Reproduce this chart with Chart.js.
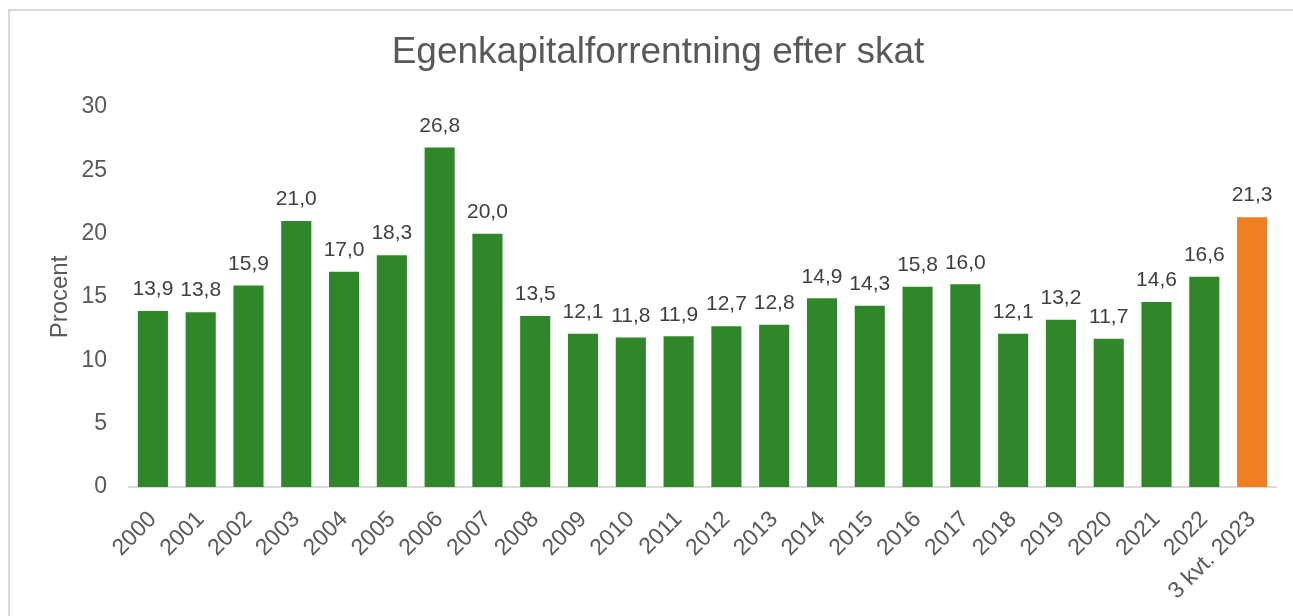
<!DOCTYPE html>
<html lang="da">
<head>
<meta charset="UTF-8" />
<title>Egenkapitalforrentning efter skat</title>
<script src="https://cdn.jsdelivr.net/npm/chart.js"></script>
<style>
  html, body { margin: 0; padding: 0; background: #fff; }
  #ramme { position: absolute; left: 0; top: 0; width: 1293px; height: 616px; overflow: hidden; }
  #kant { position: absolute; left: 8px; top: 9px; width: 1300px; height: 700px; border: 2px solid #d9d9d9; box-sizing: border-box; }
  #boks { position: absolute; left: 0; top: 0; width: 1293px; height: 616px; }
</style>
</head>
<body>
<div id="ramme">
  <div id="kant"></div>
  <div id="boks"><canvas id="graf"></canvas></div>
</div>
<script>
  const aar = ['2000', '2001', '2002', '2003', '2004', '2005', '2006', '2007', '2008', '2009',
    '2010', '2011', '2012', '2013', '2014', '2015', '2016', '2017', '2018', '2019',
    '2020', '2021', '2022', '3 kvt. 2023'];
  const procent = [13.9, 13.8, 15.9, 21.0, 17.0, 18.3, 26.8, 20.0, 13.5, 12.1,
    11.8, 11.9, 12.7, 12.8, 14.9, 14.3, 15.8, 16.0, 12.1, 13.2,
    11.7, 14.6, 16.6, 21.3];
  const yTicks = [0, 5, 10, 15, 20, 25, 30];

  const farver = procent.map((v, i) => i === procent.length - 1 ? '#F07F22' : '#2F872A');
  const skrift = '"Liberation Sans", Arial, sans-serif';

  // tal over hver søjle
  const etiketter = {
    id: 'etiketter',
    afterDatasetsDraw(chart) {
      const ctx = chart.ctx;
      const meta = chart.getDatasetMeta(0);
      ctx.save();
      ctx.font = '21px ' + skrift;
      ctx.fillStyle = '#404040';
      ctx.textAlign = 'center';
      ctx.textBaseline = 'bottom';
      meta.data.forEach((bar, i) => {
        ctx.fillText(procent[i].toFixed(1).replace('.', ','), bar.x, bar.y - 11);
      });
      ctx.restore();
    }
  };

  new Chart(document.getElementById('graf'), {
    type: 'bar',
    data: {
      labels: aar,
      datasets: [{
        data: procent,
        backgroundColor: farver,
        categoryPercentage: 1,
        barPercentage: 0.63
      }]
    },
    plugins: [etiketter],
    options: {
      responsive: true,
      maintainAspectRatio: false,
      animation: false,
      layout: { padding: { left: 40, right: 17, top: 0, bottom: 0 } },
      plugins: {
        legend: { display: false },
        tooltip: { enabled: false },
        title: {
          display: true,
          text: 'Egenkapitalforrentning efter skat',
          color: '#595959',
          font: { family: skrift, size: 37, weight: 'normal', lineHeight: 1.2 },
          padding: { top: 31, bottom: 31.6 }
        }
      },
      scales: {
        x: {
          grid: { display: false },
          border: { display: true, color: '#d9d9d9', width: 2 },
          ticks: {
            color: '#595959',
            font: { family: skrift, size: 23 },
            minRotation: 45,
            maxRotation: 45,
            autoSkip: false,
            padding: 11
          },
          afterFit(scale) { scale.height = 129; }
        },
        y: {
          min: 0,
          max: 30,
          grid: { display: false },
          border: { display: false },
          afterBuildTicks(scale) { scale.ticks = yTicks.map(v => ({ value: v })); },
          ticks: {
            color: '#595959',
            font: { family: skrift, size: 23 },
            padding: 14
          },
          title: {
            display: true,
            text: 'Procent',
            color: '#595959',
            font: { family: skrift, size: 24 },
            padding: { top: 6, bottom: 0 }
          },
          afterFit(scale) { scale.width = 89; }
        }
      }
    }
  });
</script>
</body>
</html>
